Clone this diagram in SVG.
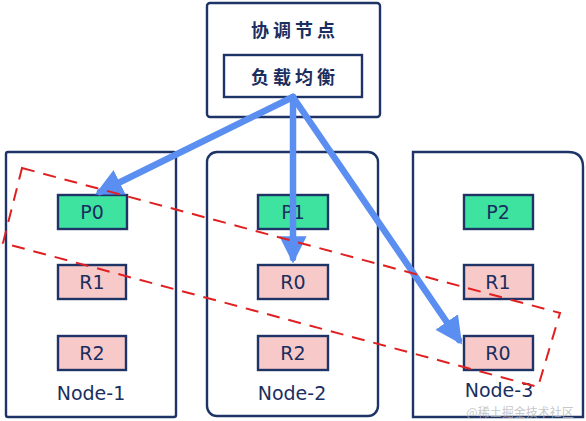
<svg xmlns="http://www.w3.org/2000/svg" width="586" height="421" viewBox="0 0 586 421">
<style>
.frame{fill:#fff;stroke:#1e3466;stroke-width:2.4}
.p{fill:#3fe3a0;stroke:#1e3466;stroke-width:2.4}
.r{fill:#f8c9c9;stroke:#1e3466;stroke-width:2.4}
.t{font-family:"DejaVu Sans","Liberation Sans",sans-serif;font-size:19px;fill:#1a2e60;text-anchor:middle;dominant-baseline:central}
.cjk{font-family:"Noto Sans CJK SC",sans-serif;font-size:18px;font-weight:bold;fill:#1a2e60;text-anchor:middle;dominant-baseline:central;letter-spacing:4px}
.arrow{fill:none;stroke:#5a8ef0;stroke-width:6.5;stroke-linecap:round}
</style>
<defs>
<marker id="ah" viewBox="0 0 10 10" refX="8" refY="5" markerWidth="4.2" markerHeight="4.4" orient="auto" markerUnits="strokeWidth">
<path d="M0,0 L10,5 L0,10 Z" fill="#5a8ef0"/>
</marker>
</defs>
<rect width="586" height="421" fill="#fff"/>
<g id="coordinator">
<rect class="frame" x="207" y="3" width="173" height="114" rx="3"/>
<text class="cjk" x="295" y="29">协调节点</text>
<rect class="frame" x="224" y="55" width="138" height="42"/>
<text class="cjk" x="295" y="76">负载均衡</text>
</g>
<g id="node-1">
<rect class="frame" x="6" y="152" width="170" height="265" rx="2"/>
<rect class="p" x="58" y="195" width="69" height="34"/>
<text class="t" x="92" y="212">P0</text>
<rect class="r" x="58" y="265" width="68" height="34"/>
<text class="t" x="92" y="282">R1</text>
<rect class="r" x="58" y="336" width="68" height="34"/>
<text class="t" x="92" y="353">R2</text>
<text class="t" x="91" y="393">Node-1</text>
</g>
<g id="node-2">
<rect class="frame" x="207" y="152" width="171" height="264" rx="10"/>
<rect class="p" x="258" y="195" width="70" height="34"/>
<text class="t" x="293" y="212">P1</text>
<rect class="r" x="258" y="265" width="70" height="34"/>
<text class="t" x="293" y="282">R0</text>
<rect class="r" x="258" y="336" width="70" height="34"/>
<text class="t" x="293" y="353">R2</text>
<text class="t" x="292" y="393">Node-2</text>
</g>
<g id="node-3">
<path class="frame" d="M413,152 L568,152 Q583,152 583,167 L583,417 L413,417 Z"/>
<rect class="p" x="464" y="195" width="69" height="34"/>
<text class="t" x="498" y="212">P2</text>
<rect class="r" x="464" y="265" width="69" height="34"/>
<text class="t" x="498" y="282">R1</text>
<rect class="r" x="464" y="336" width="69" height="34"/>
<text class="t" x="498" y="353">R0</text>
<text class="t" x="499" y="390">Node-3</text>
</g>
<g id="connectors">
<path class="arrow" d="M293,97 L100,192" marker-end="url(#ah)"/>
<path class="arrow" d="M293,97 L293,258" marker-end="url(#ah)"/>
<path class="arrow" d="M293,97 L459,340" marker-end="url(#ah)"/>
<polygon points="22,168 560,313 538,387 3,243" fill="none" stroke="#e02020" stroke-width="2" stroke-dasharray="13,9"/>
</g>
<text x="520" y="417" font-family="Noto Sans CJK SC,sans-serif" font-size="12" fill="#b8b8b8" fill-opacity="0.8" text-anchor="middle">@稀土掘金技术社区</text>
</svg>
